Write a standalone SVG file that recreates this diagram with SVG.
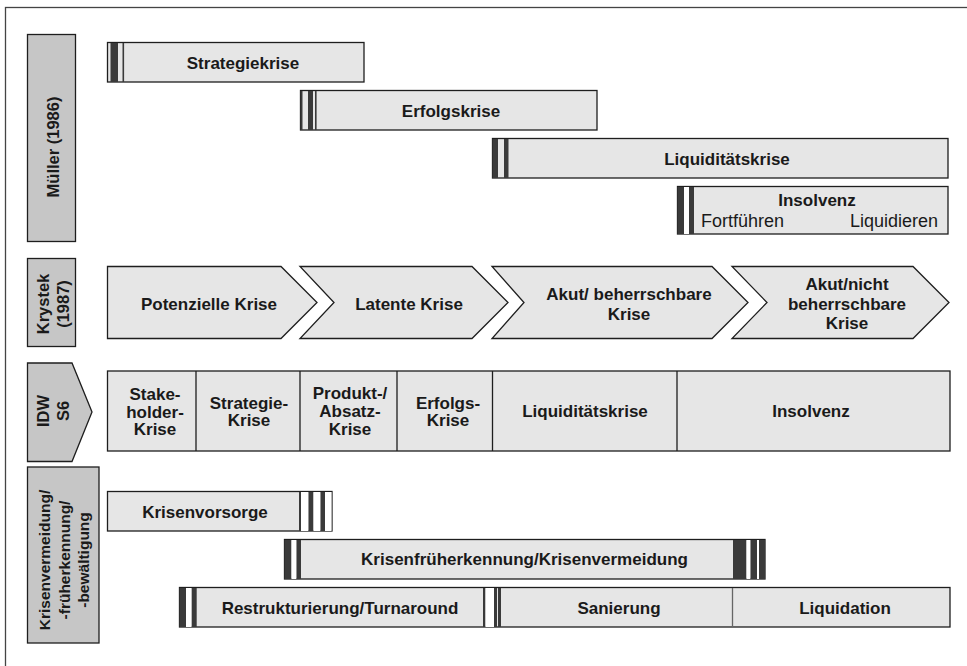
<svg xmlns="http://www.w3.org/2000/svg" width="967" height="666" viewBox="0 0 967 666">
<style>
.bar{fill:#e6e6e6;stroke:#1e1e1e;stroke-width:1.3}
.lab{fill:#c6c6c6;stroke:#1e1e1e;stroke-width:1.3}
.dk{fill:#3a3a3a}
.wt{fill:#ffffff}
.div{stroke:#1e1e1e;stroke-width:1.3}
.t{font-family:"Liberation Sans",Arial,sans-serif;font-size:17px;font-weight:bold;fill:#1a1a1a;text-anchor:middle}
.v{font-size:16.5px}
.r{font-weight:normal;font-size:18px}
</style>
<rect x="5.5" y="7.5" width="990" height="700" fill="#fff" stroke="#444" stroke-width="1.3"/>

<g id="label-mueller">
<rect class="lab" x="27.5" y="34.5" width="48" height="207"/>
<text class="t v" transform="translate(0,147) rotate(-90)" x="0" y="59">Müller (1986)</text>
</g>
<g id="strategiekrise">
<rect class="bar" x="107.5" y="42.5" width="256.5" height="39.5"/>
<rect class="dk" x="110.5" y="43" width="7.5" height="39"/>
<rect class="dk" x="122.5" y="43" width="1.6" height="39"/>
<text class="t" x="243" y="69">Strategiekrise</text>
</g>
<g id="erfolgskrise">
<rect class="bar" x="300.5" y="90.5" width="296.5" height="39.5"/>
<rect class="dk" x="300.5" y="91" width="2" height="39"/>
<rect class="dk" x="308" y="91" width="5" height="39"/>
<rect class="dk" x="315" y="91" width="1.6" height="39"/>
<text class="t" x="451" y="117">Erfolgskrise</text>
</g>
<g id="liquiditaetskrise">
<rect class="bar" x="492.5" y="138.5" width="455.5" height="39.5"/>
<rect class="dk" x="492.5" y="139" width="5.5" height="39"/>
<rect class="dk" x="504" y="139" width="4.5" height="39"/>
<text class="t" x="727" y="164.5">Liquiditätskrise</text>
</g>
<g id="insolvenz-mueller">
<rect class="bar" x="677.5" y="186.5" width="270.5" height="47.5"/>
<rect class="dk" x="677.5" y="187" width="6.5" height="47"/>
<rect class="wt" x="684" y="187" width="5" height="47"/>
<rect class="dk" x="689" y="187" width="5" height="47"/>
<text class="t" x="817" y="206">Insolvenz</text>
<text class="t r" x="701" y="227" style="text-anchor:start">Fortführen</text>
<text class="t r" x="938" y="227" style="text-anchor:end">Liquidieren</text>
</g>

<g id="label-krystek">
<rect class="lab" x="27.5" y="258.5" width="48" height="88"/>
<text class="t v" transform="translate(0,304) rotate(-90)" x="0" y="48.5">Krystek</text>
<text class="t v" transform="translate(0,304) rotate(-90)" x="0" y="68.5">(1987)</text>
</g>
<g id="potenzielle-krise">
<path class="bar" d="M107.5,266.5 H281 L317,302.5 L281,338.5 H107.5 Z"/>
<text class="t" x="209" y="310">Potenzielle Krise</text>
</g>
<g id="latente-krise">
<path class="bar" d="M300,266.5 H472 L508,302.5 L472,338.5 H300 L334,302.5 Z"/>
<text class="t" x="409" y="310">Latente Krise</text>
</g>
<g id="akut-beherrschbar">
<path class="bar" d="M492,266.5 H712 L748,302.5 L712,338.5 H492 L524,302.5 Z"/>
<text class="t" x="629" y="299.5">Akut/ beherrschbare</text>
<text class="t" x="629" y="319.5">Krise</text>
</g>
<g id="akut-nicht-beherrschbar">
<path class="bar" d="M732,266.5 H913 L949,302.5 L913,338.5 H732 L767,302.5 Z"/>
<text class="t" x="847" y="289.5">Akut/nicht</text>
<text class="t" x="847" y="309.5">beherrschbare</text>
<text class="t" x="847" y="329">Krise</text>
</g>

<g id="label-idw">
<path class="lab" d="M27.5,363 H72 L92,412 L72,461.5 H27.5 Z"/>
<text class="t v" transform="translate(0,411) rotate(-90)" x="0" y="49">IDW</text>
<text class="t v" transform="translate(0,411) rotate(-90)" x="0" y="69">S6</text>
</g>
<g id="idw-row">
<rect class="bar" x="107.5" y="371" width="842.5" height="80"/>
<line class="div" x1="196" y1="371" x2="196" y2="451"/>
<line class="div" x1="300" y1="371" x2="300" y2="451"/>
<line class="div" x1="397" y1="371" x2="397" y2="451"/>
<line class="div" x1="492.5" y1="371" x2="492.5" y2="451"/>
<line class="div" x1="677" y1="371" x2="677" y2="451"/>
</g>
<g id="idw-stakeholder">
<text class="t" x="155" y="400">Stake-</text>
<text class="t" x="155" y="417.5">holder-</text>
<text class="t" x="155" y="435">Krise</text>
</g>
<g id="idw-strategie">
<text class="t" x="249" y="408.5">Strategie-</text>
<text class="t" x="249" y="426">Krise</text>
</g>
<g id="idw-produkt">
<text class="t" x="350" y="399">Produkt-/</text>
<text class="t" x="350" y="417">Absatz-</text>
<text class="t" x="350" y="435">Krise</text>
</g>
<g id="idw-erfolg">
<text class="t" x="448" y="408.5">Erfolgs-</text>
<text class="t" x="448" y="426">Krise</text>
</g>
<g id="idw-liquiditaet">
<text class="t" x="585" y="417">Liquiditätskrise</text>
</g>
<g id="idw-insolvenz">
<text class="t" x="811" y="417">Insolvenz</text>
</g>

<g id="label-krisen">
<rect class="lab" x="27.5" y="467" width="71.5" height="176"/>
<text class="t" transform="translate(0,560) rotate(-90)" x="0" y="49.5" style="font-size:15.5px">Krisenvermeidung/</text>
<text class="t" transform="translate(0,560) rotate(-90)" x="0" y="69.5" style="font-size:15.5px">-früherkennung/</text>
<text class="t" transform="translate(0,560) rotate(-90)" x="0" y="88.5" style="font-size:15.5px">-bewältigung</text>
</g>
<g id="krisenvorsorge">
<rect class="bar" x="107.5" y="491.5" width="224.5" height="39.5"/>
<rect class="dk" x="299" y="492" width="2" height="39"/>
<rect class="wt" x="301" y="492" width="7.5" height="39"/>
<rect class="dk" x="308.5" y="492" width="5" height="39"/>
<rect class="wt" x="313.5" y="492" width="7" height="39"/>
<rect class="dk" x="320.5" y="492" width="4.5" height="39"/>
<rect class="wt" x="325" y="492" width="6.5" height="39"/>
<text class="t" x="205" y="517.5">Krisenvorsorge</text>
</g>
<g id="krisenfrueherkennung">
<rect class="bar" x="284.5" y="539.5" width="480.5" height="39.5"/>
<rect class="dk" x="284.5" y="540" width="7" height="39"/>
<rect class="wt" x="291.5" y="540" width="5" height="39"/>
<rect class="dk" x="296.5" y="540" width="4.5" height="39"/>
<rect class="dk" x="733" y="540" width="13.5" height="39"/>
<rect class="wt" x="746.5" y="540" width="4" height="39"/>
<rect class="dk" x="750.5" y="540" width="6.5" height="39"/>
<rect class="wt" x="757" y="540" width="2" height="39"/>
<rect class="dk" x="759" y="540" width="6" height="39"/>
<text class="t" x="524.5" y="564.5">Krisenfrüherkennung/Krisenvermeidung</text>
</g>
<g id="restrukturierung">
<rect class="bar" x="179.5" y="587.5" width="770.5" height="39.5"/>
<rect class="dk" x="179.5" y="588" width="6.5" height="39"/>
<rect class="wt" x="186" y="588" width="5.7" height="39"/>
<rect class="dk" x="191.7" y="588" width="5" height="39"/>
<rect class="dk" x="483" y="588" width="2.5" height="39"/>
<rect class="wt" x="485.5" y="588" width="8.5" height="39"/>
<rect class="dk" x="494" y="588" width="3" height="39"/>
<rect class="dk" x="498" y="588" width="3" height="39"/>
<text class="t" x="340" y="613.5">Restrukturierung/Turnaround</text>
</g>
<g id="sanierung">
<text class="t" x="619" y="613.5">Sanierung</text>
</g>
<g id="liquidation">
<line x1="732.5" y1="588" x2="732.5" y2="627" stroke="#666" stroke-width="1.3"/>
<text class="t" x="845" y="613.5">Liquidation</text>
</g>
</svg>
